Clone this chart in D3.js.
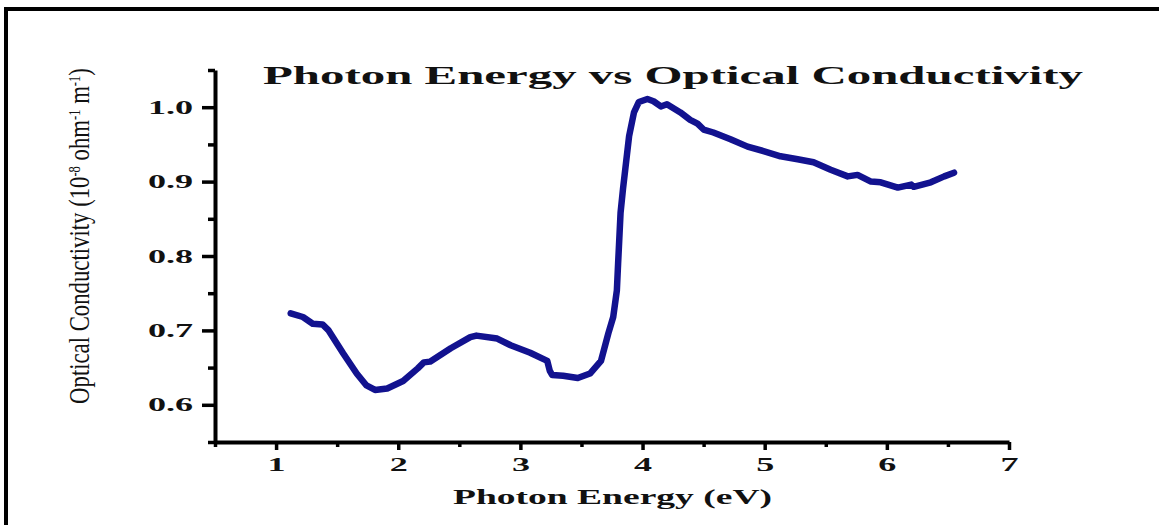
<!DOCTYPE html>
<html>
<head>
<meta charset="utf-8">
<script src="https://cdn.jsdelivr.net/npm/d3@7"></script>
<style>
  body { margin: 0; background: #fff; }
  svg { display: block; }
</style>
</head>
<body>
<svg width="1159" height="525"></svg>
<script>
// photon energy (eV)
const energy = [1.12, 1.22, 1.30, 1.38, 1.43, 1.55, 1.66, 1.74, 1.81, 1.91, 2.04, 2.16, 2.21, 2.26, 2.43, 2.59, 2.64, 2.81, 2.92, 3.08, 3.22, 3.24, 3.26, 3.35, 3.47, 3.57, 3.66, 3.72, 3.76, 3.79, 3.80, 3.82, 3.84, 3.89, 3.93, 3.97, 4.04, 4.09, 4.15, 4.20, 4.31, 4.39, 4.45, 4.50, 4.58, 4.72, 4.86, 4.99, 5.13, 5.27, 5.40, 5.54, 5.68, 5.76, 5.87, 5.95, 6.09, 6.20, 6.22, 6.36, 6.47, 6.55]
// optical conductivity (10^-8 ohm^-1 m^-1)
const conductivity = [0.723, 0.718, 0.709, 0.708, 0.700, 0.669, 0.642, 0.626, 0.620, 0.622, 0.632, 0.649, 0.657, 0.658, 0.676, 0.691, 0.693, 0.689, 0.680, 0.670, 0.659, 0.646, 0.640, 0.639, 0.636, 0.642, 0.659, 0.696, 0.718, 0.754, 0.790, 0.858, 0.890, 0.961, 0.993, 1.007, 1.011, 1.008, 1.001, 1.004, 0.993, 0.983, 0.978, 0.970, 0.966, 0.957, 0.947, 0.941, 0.934, 0.930, 0.926, 0.916, 0.907, 0.909, 0.900, 0.899, 0.892, 0.896, 0.893, 0.899, 0.907, 0.912]

const xTicks = [1, 2, 3, 4, 5, 6, 7]
const xMinor = [0.5, 1.5, 2.5, 3.5, 4.5, 5.5, 6.5]
const yTicks = [0.6, 0.7, 0.8, 0.9, 1.0]
const yMinor = [0.55, 0.65, 0.75, 0.85, 0.95, 1.05]

const svg = d3.select("svg")
const serif = "'Liberation Serif', 'Times New Roman', serif"

// frame lines (top and left)
svg.append("line").attr("x1", 4).attr("x2", 1159).attr("y1", 9).attr("y2", 9)
    .attr("stroke", "#000").attr("stroke-width", 4)
svg.append("line").attr("x1", 6).attr("x2", 6).attr("y1", 7).attr("y2", 525)
    .attr("stroke", "#000").attr("stroke-width", 4)

const x = d3.scaleLinear().domain([0.5, 7]).range([215, 1009])
const y = d3.scaleLinear().domain([0.55, 1.05]).range([442, 70])

// x axis
svg.append("g").attr("transform", "translate(0,442)")
    .call(d3.axisBottom(x).tickValues(xTicks).tickFormat(d3.format("d"))
        .tickSize(8).tickSizeOuter(0).tickPadding(8))
svg.append("g").attr("transform", "translate(0,442)")
    .call(d3.axisBottom(x).tickValues(xMinor).tickFormat("").tickSize(5).tickSizeOuter(0))
    .select(".domain").remove()

// y axis
svg.append("g").attr("transform", "translate(215,0)")
    .call(d3.axisLeft(y).tickValues(yTicks).tickFormat(d3.format(".1f"))
        .tickSize(13).tickSizeOuter(0).tickPadding(9))
svg.append("g").attr("transform", "translate(215,0)")
    .call(d3.axisLeft(y).tickValues(yMinor).tickFormat("").tickSize(7).tickSizeOuter(0))
    .select(".domain").remove()

svg.selectAll(".domain").attr("stroke", "#000").attr("stroke-width", 4)
svg.selectAll(".tick line").attr("stroke", "#000").attr("stroke-width", 3.5)

svg.selectAll(".tick text")
    .attr("fill", "#111")
    .style("font-family", serif)
    .style("font-weight", "bold")
    .style("font-size", "19px")
    .attr("lengthAdjust", "spacingAndGlyphs")
    .each(function() {
        const w = this.getComputedTextLength()
        d3.select(this).attr("textLength", w * 1.9)
    })

// curve
const pts = energy.map((e, i) => [e, conductivity[i]])
svg.append("path")
    .datum(pts)
    .attr("fill", "none")
    .attr("stroke", "#12128f")
    .attr("stroke-width", 6.5)
    .attr("stroke-linejoin", "round")
    .attr("stroke-linecap", "round")
    .attr("d", d3.line().x(d => x(d[0])).y(d => y(d[1])))

// title
svg.append("text")
    .attr("x", 263).attr("y", 84)
    .style("font-family", serif).style("font-weight", "bold").style("font-size", "26px")
    .attr("fill", "#111")
    .attr("textLength", 820).attr("lengthAdjust", "spacingAndGlyphs")
    .text("Photon Energy vs Optical Conductivity")

// x axis title
svg.append("text")
    .attr("x", 453).attr("y", 504)
    .style("font-family", serif).style("font-weight", "bold").style("font-size", "20px")
    .attr("fill", "#111")
    .attr("textLength", 319).attr("lengthAdjust", "spacingAndGlyphs")
    .text("Photon Energy (eV)")

// y axis title with superscripts, squeezed along its length
const yl = svg.append("text")
    .style("font-family", serif).style("font-size", "29px")
    .attr("fill", "#111")
    .attr("text-anchor", "middle")
yl.append("tspan").text("Optical Conductivity (10")
yl.append("tspan").attr("baseline-shift", "super").style("font-size", "16px").text("-8")
yl.append("tspan").text(" ohm")
yl.append("tspan").attr("baseline-shift", "super").style("font-size", "16px").text("-1")
yl.append("tspan").text(" m")
yl.append("tspan").attr("baseline-shift", "super").style("font-size", "16px").text("-1")
yl.append("tspan").text(")")
const ylw = yl.node().getComputedTextLength()
yl.attr("transform", `translate(89,236) rotate(-90) scale(${336 / ylw},1)`)
</script>
</body>
</html>
